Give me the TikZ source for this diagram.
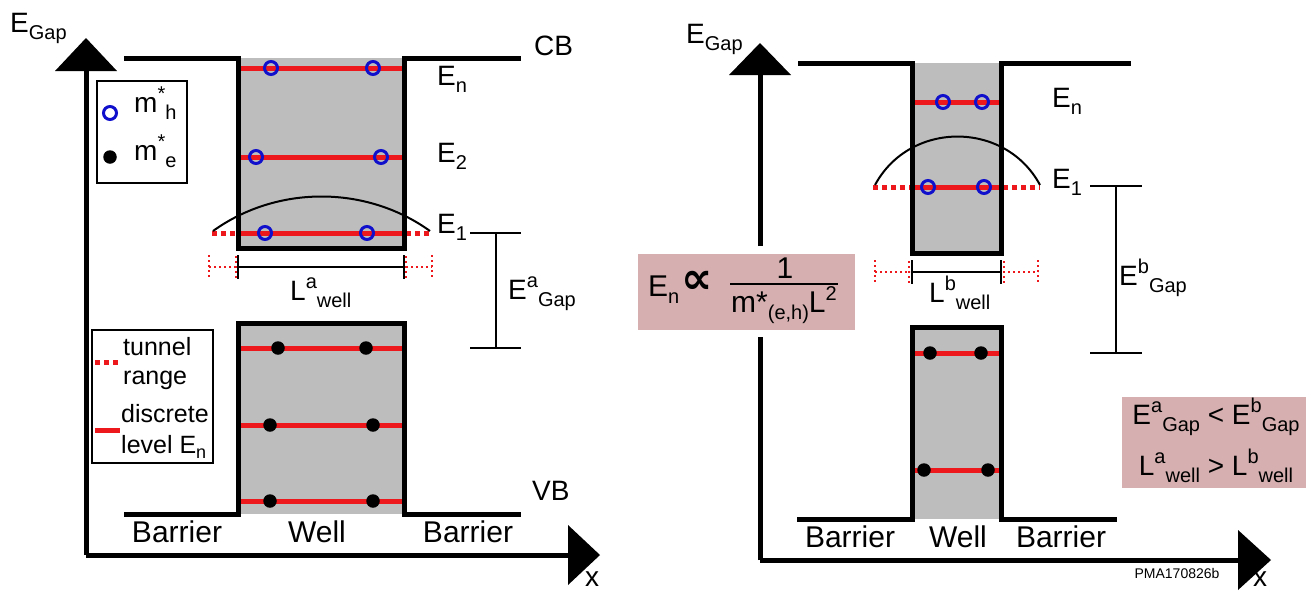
\documentclass[tikz,border=0pt]{standalone}
\usepackage{fontspec}
\setmainfont{Liberation Sans}
\newfontfamily\dejavu{DejaVu Sans}
\definecolor{wellgray}{RGB}{189,189,189}
\definecolor{lvlred}{RGB}{236,24,28}
\definecolor{holeblue}{RGB}{16,16,204}
\definecolor{boxpink}{RGB}{214,176,176}
\newcommand{\fsz}[1]{\fontsize{#1}{#1}\selectfont}
\newcommand{\lo}[1]{\raisebox{-7pt}{\fsz{20}#1}}
\newcommand{\hi}[1]{\raisebox{12pt}{\fsz{20}#1}}
\begin{document}
\begin{tikzpicture}[x=1pt,y=-1pt,
  band/.style={line width=5pt},
  level/.style={draw=lvlred,line width=5pt},
  tunnel/.style={draw=lvlred,line width=5pt,dash pattern=on 5pt off 4pt},
  thinline/.style={line width=2pt},
  tbr/.style={draw=lvlred,line width=1.8pt,dash pattern=on 2pt off 3pt},
  hole/.style={circle,draw=holeblue,line width=3pt,minimum size=13pt,inner sep=0pt},
  elec/.style={circle,fill=black,minimum size=13.5pt,inner sep=0pt},
  lbl/.style={inner sep=0pt,font=\fsz{28}},
  blbl/.style={inner sep=0pt,font=\fsz{30}},
  legtxt/.style={inner sep=0pt,font=\fsz{25}},
  pinkbox/.style={fill=boxpink,draw=none}]
\useasboundingbox (0,0) rectangle (1306,592);

% ================= LEFT PANEL =================
% axes
\draw[band] (86,555) -- (86,71);
\draw[band] (86,555) -- (568,555);
\fill (55,71) -- (117,71) -- (86,38) -- cycle;
\fill (568,525) -- (568,585) -- (600,555) -- cycle;
\node[lbl,anchor=base west] (egapA) at (10,32) {E\lo{Gap}};
\node[lbl,anchor=base] (xA) at (592,586) {x};

% conduction band well
\fill[wellgray] (238,58) rectangle (404,248);
\draw[level] (238,68) -- (404,68);
\draw[level] (238,157) -- (404,157);
\draw[level] (238,233) -- (404,233);
\draw[tunnel] (212,233) -- (237,233);
\draw[tunnel] (406,233) -- (431,233);
\draw[band] (124,58) -- (238,58) -- (238,248) -- (404,248) -- (404,58) -- (521,58);
\draw[thinline] (213,231) .. controls (277,185) and (366,185) .. (430,231);
\node[hole] (hAn1) at (271,68) {};
\node[hole] (hAn2) at (373,68) {};
\node[hole] (hA21) at (256,157) {};
\node[hole] (hA22) at (381,157) {};
\node[hole] (hA11) at (265,233) {};
\node[hole] (hA12) at (367,233) {};
\node[lbl,anchor=base west] (cbA) at (534,55) {CB};
\node[lbl,anchor=base west] (enA) at (437,85) {E\lo{n}};
\node[lbl,anchor=base west] (e2A) at (437,162) {E\lo{2}};
\node[lbl,anchor=base west] (e1A) at (437,233) {E\lo{1}};

% well width L^a
\draw[thinline] (238,267) -- (404,267);
\draw[thinline] (238,255) -- (238,279);
\draw[thinline] (404,255) -- (404,279);
\draw[tbr] (209,255) -- (209,279);
\draw[tbr] (209,267) -- (236,267);
\draw[tbr] (236,256) -- (236,279);
\draw[tbr] (432,255) -- (432,279);
\draw[tbr] (406,267) -- (432,267);
\draw[tbr] (406,256) -- (406,279);
\node[lbl,anchor=base west] (lwA) at (290,300) {L\hi{a}\lo{well}};

% gap bracket a
\draw[thinline] (470,233) -- (521,233);
\draw[thinline] (496,233) -- (496,348);
\draw[thinline] (470,348) -- (521,348);
\node[lbl,anchor=base west] (egA) at (508,299) {E\hi{a}\lo{Gap}};

% valence band well
\fill[wellgray] (238,323) rectangle (404,514);
\draw[level] (238,348) -- (404,348);
\draw[level] (238,425) -- (404,425);
\draw[level] (238,501) -- (404,501);
\draw[band] (124,514) -- (238,514) -- (238,323) -- (404,323) -- (404,514) -- (521,514);
\node[elec] (eA31) at (278,348) {};
\node[elec] (eA32) at (366,348) {};
\node[elec] (eA21) at (270,425) {};
\node[elec] (eA22) at (373,425) {};
\node[elec] (eA11) at (270,501) {};
\node[elec] (eA12) at (373,501) {};
\node[lbl,anchor=base west] (vbA) at (532,500) {VB};

\node[blbl,anchor=base] (barA1) at (177,542) {Barrier};
\node[blbl,anchor=base] (wellA) at (317,542) {Well};
\node[blbl,anchor=base] (barA2) at (468,542) {Barrier};

% legend 1
\draw[line width=2pt,fill=white] (97,81) rectangle (187,183);
\node[hole] (legh) at (110,113) {};
\node[elec] (lege) at (110,157) {};
\node[lbl,anchor=base west] (legmh) at (134,112) {m\hi{*}\lo{h}};
\node[lbl,anchor=base west] (legme) at (134,160) {m\hi{*}\lo{e}};

% legend 2
\draw[line width=2pt,fill=white] (92,330) rectangle (213,463);
\draw[tunnel] (95,362) -- (121,362);
\draw[level] (95,430) -- (120,430);
\node[legtxt,anchor=base west] (legt1) at (123,355) {tunnel};
\node[legtxt,anchor=base west] (legt2) at (123,384) {range};
\node[legtxt,anchor=base west] (legt3) at (121,422) {discrete};
\node[legtxt,anchor=base west] (legt4) at (121,453) {level E\raisebox{-5pt}{\fsz{18}n}};

% ================= RIGHT PANEL =================
\draw[band] (760,560) -- (760,337);
\draw[band] (760,246) -- (760,75);
\draw[band] (760,560) -- (1238,560);
\fill (729,75) -- (791,75) -- (760,43) -- cycle;
\fill (1238,530) -- (1238,590) -- (1271,560) -- cycle;
\node[lbl,anchor=base west] (egapB) at (686,43) {E\lo{Gap}};
\node[lbl,anchor=base] (xB) at (1260,586) {x};
\node[inner sep=0pt,font=\fsz{14}] (pma) at (1177,573) {PMA170826b};

% conduction band well
\fill[wellgray] (912,63) rectangle (1001,253);
\draw[level] (912,102) -- (1001,102);
\draw[level] (912,187) -- (1001,187);
\draw[tunnel] (873,187) -- (910,187);
\draw[tunnel] (1003,187) -- (1040,187);
\draw[band] (798,63) -- (912,63) -- (912,253) -- (1001,253) -- (1001,63) -- (1131,63);
\draw[thinline] (875,185) .. controls (909.7,120.4) and (1005.3,120.4) .. (1040,185);
\node[hole] (hBn1) at (943,102) {};
\node[hole] (hBn2) at (982,102) {};
\node[hole] (hB11) at (928,187) {};
\node[hole] (hB12) at (984,187) {};
\node[lbl,anchor=base west] (enB) at (1052,107) {E\lo{n}};
\node[lbl,anchor=base west] (e1B) at (1052,188) {E\lo{1}};

% well width L^b
\draw[thinline] (912,272) -- (1001,272);
\draw[thinline] (912,260) -- (912,284);
\draw[thinline] (1001,260) -- (1001,284);
\draw[tbr] (875,260) -- (875,284);
\draw[tbr] (875,272) -- (910,272);
\draw[tbr] (909,261) -- (909,284);
\draw[tbr] (1038,260) -- (1038,284);
\draw[tbr] (1003,272) -- (1038,272);
\draw[tbr] (1004,261) -- (1004,284);
\node[lbl,anchor=base west] (lwB) at (929,302) {L\hi{b}\lo{well}};

% gap bracket b
\draw[thinline] (1090,186) -- (1142,186);
\draw[thinline] (1116,186) -- (1116,353);
\draw[thinline] (1090,353) -- (1142,353);
\node[lbl,anchor=base west] (egB) at (1119,285) {E\hi{b}\lo{Gap}};

% valence band well
\fill[wellgray] (912,327) rectangle (1001,519);
\draw[level] (912,353) -- (1001,353);
\draw[level] (912,470) -- (1001,470);
\draw[band] (797,519) -- (912,519) -- (912,327) -- (1001,327) -- (1001,519) -- (1117,519);
\node[elec] (eB21) at (930,353) {};
\node[elec] (eB22) at (981,353) {};
\node[elec] (eB11) at (924,470) {};
\node[elec] (eB12) at (988,470) {};

\node[blbl,anchor=base] (barB1) at (850,547) {Barrier};
\node[blbl,anchor=base] (wellB) at (958,547) {Well};
\node[blbl,anchor=base] (barB2) at (1061,547) {Barrier};

% formula box
\fill[pinkbox] (638,254) rectangle (855,330);
\node[lbl,anchor=base west,font=\fsz{30}] (fEn) at (648,296) {E\lo{n}};
\node[inner sep=0pt,font=\dejavu\bfseries\fsz{44}] (fprop) at (697,282) {∝};
\node[lbl,anchor=base,font=\fsz{30}] (fnum) at (785,278) {1};
\draw[line width=2pt] (730,284) -- (838,284);
\node[lbl,anchor=base west,font=\fsz{30}] (fden) at (731,312) {m*\lo{(e,h)}L\hi{2}};

% comparison box
\fill[pinkbox] (1122,397) rectangle (1306,488);
\node[lbl,anchor=base] (cmp1) at (1216,424) {E\hi{a}\lo{Gap} < E\hi{b}\lo{Gap}};
\node[lbl,anchor=base] (cmp2) at (1216,475) {L\hi{a}\lo{well} > L\hi{b}\lo{well}};
\end{tikzpicture}
\end{document}
